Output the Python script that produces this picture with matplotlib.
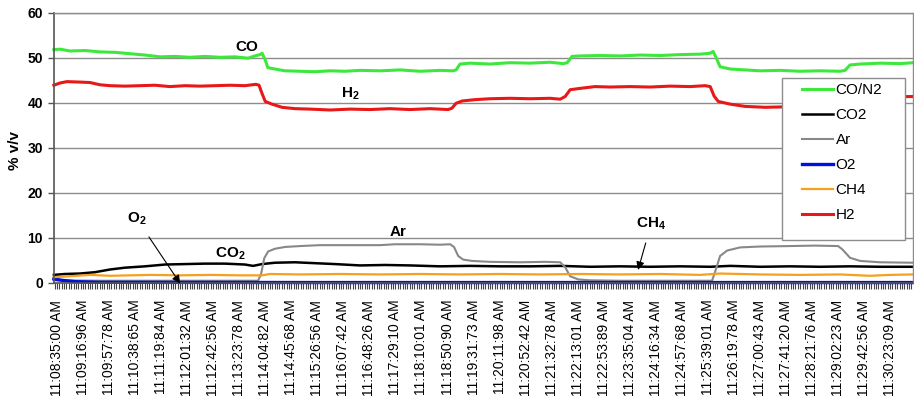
import matplotlib
matplotlib.use("Agg")
import matplotlib.pyplot as plt
from matplotlib.ticker import MultipleLocator
from matplotlib.patches import Rectangle

plt.rcParams['font.family'] = ['Liberation Sans', 'DejaVu Sans']
plt.rcParams['mathtext.fontset'] = 'custom'
plt.rcParams['mathtext.bf'] = 'Liberation Sans:bold'
plt.rcParams['mathtext.rm'] = 'Liberation Sans'

# time axis in units of tick-label intervals (~40.8 s each), 0 = 11:08:35:00 AM
tick_labels = ["11:08:35:00 AM", "11:09:16:96 AM", "11:09:57:78 AM", "11:10:38:65 AM",
               "11:11:19:84 AM", "11:12:01:32 AM", "11:12:42:56 AM", "11:13:23:78 AM",
               "11:14:04:82 AM", "11:14:45:68 AM", "11:15:26:56 AM", "11:16:07:42 AM",
               "11:16:48:26 AM", "11:17:29:10 AM", "11:18:10:01 AM", "11:18:50:90 AM",
               "11:19:31:73 AM", "11:20:11:98 AM", "11:20:52:42 AM", "11:21:32:78 AM",
               "11:22:13:01 AM", "11:22:53:89 AM", "11:23:35:04 AM", "11:24:16:34 AM",
               "11:24:57:68 AM", "11:25:39:01 AM", "11:26:19:78 AM", "11:27:00:43 AM",
               "11:27:41:20 AM", "11:28:21:76 AM", "11:29:02:23 AM", "11:29:42:56 AM",
               "11:30:23:09 AM"]

co_t = [-0.12, 0.12, 0.5, 1.08, 1.65, 2.23, 2.8, 3.38, 3.96, 4.53, 5.11, 5.69, 6.26, 6.84,
        7.34, 7.6, 7.8, 7.88, 8.0, 8.1, 8.37, 8.76, 9.34, 9.91, 10.49, 11.06, 11.64, 12.41,
        13.18, 13.95, 14.71, 15.21, 15.33, 15.48, 15.87, 16.63, 17.4, 18.17, 18.94, 19.44,
        19.6, 19.78, 20.09, 20.86, 21.63, 22.4, 23.17, 23.93, 24.7, 25.09, 25.2, 25.32,
        25.47, 25.86, 26.43, 27.01, 27.78, 28.54, 29.31, 30.08, 30.27, 30.46, 30.85,
        31.62, 32.39, 32.89]
co_v = [51.8, 51.9, 51.5, 51.6, 51.3, 51.2, 50.9, 50.6, 50.2, 50.3, 50.1, 50.3, 50.1, 50.2,
        49.9, 50.4, 50.7, 51.0, 49.5, 47.8, 47.5, 47.1, 47.0, 46.9, 47.1, 47.0, 47.2, 47.1,
        47.3, 47.0, 47.2, 47.1, 47.3, 48.6, 48.8, 48.6, 48.9, 48.8, 49.0, 48.7,
        48.9, 50.3, 50.4, 50.5, 50.4, 50.6, 50.5, 50.7, 50.8, 51.0, 51.4, 50.0,
        48.0, 47.5, 47.3, 47.1, 47.2, 47.0, 47.1, 47.0, 47.2, 48.4, 48.6,
        48.8, 48.7, 48.9]

h2_t = [-0.12, 0.12, 0.38, 0.88, 1.27, 1.65, 2.04, 2.61, 3.19, 3.76, 4.34, 4.92, 5.49, 6.07,
        6.65, 7.22, 7.64, 7.76, 7.88, 8.0, 8.26, 8.64, 9.14, 9.72, 10.49, 11.26, 12.02,
        12.79, 13.56, 14.33, 15.02, 15.17, 15.33, 15.56, 16.06, 16.63, 17.4, 18.17, 18.94,
        19.33, 19.52, 19.71, 20.09, 20.67, 21.24, 22.01, 22.78, 23.55, 24.32, 24.9, 25.09,
        25.24, 25.4, 25.86, 26.43, 27.2, 27.97, 28.93, 29.89, 30.27, 30.46, 30.85, 31.62,
        32.89]
h2_v = [43.9, 44.4, 44.7, 44.6, 44.5, 44.0, 43.8, 43.7, 43.8, 43.9, 43.6, 43.8, 43.7, 43.8,
        43.9, 43.8, 44.1, 43.9, 42.0, 40.3, 39.7, 39.0, 38.7, 38.6, 38.4, 38.6, 38.5,
        38.7, 38.5, 38.7, 38.5, 38.8, 39.9, 40.4, 40.7, 40.9, 41.0, 40.9, 41.0,
        40.8, 41.4, 42.9, 43.2, 43.6, 43.5, 43.6, 43.5, 43.7, 43.6, 43.8, 43.6,
        41.5, 40.3, 39.7, 39.2, 39.0, 39.1, 39.0, 39.1, 39.0, 40.8, 41.1, 41.3,
        41.4]

ar_t = [-0.12, 1.65, 3.57, 5.49, 7.72, 7.84, 7.96, 8.11, 8.37, 8.76, 9.34, 10.1, 11.26,
        12.41, 12.98, 13.95, 14.71, 15.1, 15.25, 15.41, 15.6, 15.94, 16.63, 17.79, 18.75,
        19.33, 19.52, 19.71, 20.02, 20.48, 21.63, 23.93, 25.16, 25.28, 25.47, 25.74, 26.24,
        27.01, 28.16, 29.12, 30.0, 30.16, 30.46, 30.85, 31.62, 32.89]
ar_v = [0.6, 0.5, 0.5, 0.5, 0.5, 2.0, 5.5, 7.0, 7.6, 8.0, 8.2, 8.4, 8.4,
        8.4, 8.6, 8.6, 8.5, 8.6, 8.0, 6.0, 5.2, 4.9, 4.7, 4.6, 4.7,
        4.6, 3.5, 1.5, 0.8, 0.6, 0.5, 0.5, 0.5, 2.5, 6.0, 7.2, 7.9,
        8.1, 8.2, 8.3, 8.2, 7.5, 5.6, 4.9, 4.6, 4.5]

co2_t = [-0.12, 0.31, 0.88, 1.46, 2.04, 2.61, 3.38, 4.15, 4.92, 5.69, 6.45, 7.22, 7.53,
         7.88, 8.37, 9.14, 9.91, 10.68, 11.64, 12.6, 13.56, 14.71, 15.87, 17.02, 18.17,
         19.33, 20.48, 21.63, 22.78, 23.93, 25.09, 25.86, 27.01, 28.16, 29.31, 30.46,
         31.62, 32.89]
co2_v = [1.8, 2.0, 2.1, 2.4, 3.0, 3.4, 3.7, 4.1, 4.2, 4.3, 4.3, 4.1, 3.8,
         4.2, 4.5, 4.6, 4.4, 4.2, 3.9, 4.0, 3.9, 3.7, 3.8, 3.7, 3.7,
         3.8, 3.6, 3.7, 3.6, 3.7, 3.6, 3.8, 3.6, 3.7, 3.6, 3.7,
         3.6, 3.6]

ch4_t = [-0.12, 0.5, 1.27, 2.04, 2.8, 3.57, 4.73, 5.88, 7.03, 7.88, 8.18, 9.34, 10.87,
         12.41, 13.95, 15.48, 17.02, 18.56, 20.09, 21.63, 23.17, 24.7, 25.47, 27.01,
         28.54, 30.08, 31.23, 32.0, 32.89]
ch4_v = [1.3, 1.5, 1.8, 1.6, 1.7, 1.8, 1.7, 1.8, 1.7, 1.7, 2.0, 1.9, 2.0,
         1.9, 2.0, 1.9, 2.0, 1.9, 2.0, 1.9, 2.0, 1.8, 2.1, 1.9,
         1.8, 1.9, 1.6, 1.8, 1.9]

o2_t = [-0.12, 0.19, 0.69, 1.65, 10.0, 20.0, 32.89]
o2_v = [0.9, 0.6, 0.3, 0.15, 0.1, 0.1, 0.1]

series = [
    ("CO/N2", co_t, co_v, "#3de83d", 2.2),
    ("CO2", co2_t, co2_v, "#000000", 1.8),
    ("Ar", ar_t, ar_v, "#888888", 1.5),
    ("O2", o2_t, o2_v, "#0010e0", 2.4),
    ("CH4", ch4_t, ch4_v, "#f5a01e", 1.6),
    ("H2", h2_t, h2_v, "#e81818", 2.2),
]

fig = plt.figure(figsize=(9.14, 4.0), dpi=100)
W, H = 914, 400
x0, x1, ytop, ybot = 54, 913, 12.7, 283
ax = fig.add_axes([x0 / W, 1 - ybot / H, (x1 - x0) / W, (ybot - ytop) / H])

for name, t, v, c, lw in series:
    ax.plot(t, v, color=c, lw=lw, label=name, solid_joinstyle='round', clip_on=False)

ax.set_xlim(-0.115, 32.88)
ax.set_ylim(0, 60)
ax.set_yticks(range(0, 61, 10))
ax.yaxis.grid(True, color="#8c8c8c", lw=1.0)
ax.set_axisbelow(True)
ax.tick_params(axis='y', length=4, width=1, color="#555555", pad=4, labelsize=10)
for lab in ax.get_yticklabels():
    lab.set_fontweight('bold')

ax.set_xticks(range(len(tick_labels)))
ax.set_xticklabels(tick_labels, rotation=90, fontsize=10)
ax.xaxis.set_minor_locator(MultipleLocator(1 / 11))
ax.tick_params(axis='x', which='both', length=4, width=0.8, color="#444444", pad=8)

for s in ['top', 'right']:
    ax.spines[s].set_color("#8c8c8c")
    ax.spines[s].set_linewidth(1.0)
for s in ['left', 'bottom']:
    ax.spines[s].set_color("#555555")
    ax.spines[s].set_linewidth(1.2)

fig.text(15 / W, 1 - 150 / H, "% v/v", rotation=90, fontsize=11, fontweight='bold',
         ha='center', va='center')

# annotations
ax.text(7.30, 52.4, "CO", fontsize=11, fontweight='bold', ha='center', va='center')
ax.text(11.26, 42.0, r"$\mathbf{H_2}$", fontsize=11, ha='center', va='center')
ax.text(13.1, 11.3, "Ar", fontsize=11, fontweight='bold', ha='center', va='center')
ax.text(6.65, 6.4, r"$\mathbf{CO_2}$", fontsize=11, ha='center', va='center')
ax.annotate(r"$\mathbf{O_2}$", xy=(4.73, -0.1), xytext=(3.07, 14.2), fontsize=11,
            ha='center', va='center', annotation_clip=False,
            arrowprops=dict(arrowstyle='-|>', color='black', lw=0.8, mutation_scale=12,
                            shrinkA=6, shrinkB=0))
ax.annotate(r"$\mathbf{CH_4}$", xy=(22.32, 2.9), xytext=(22.82, 13.1), fontsize=11,
            ha='center', va='center', annotation_clip=False,
            arrowprops=dict(arrowstyle='-|>', color='black', lw=0.8, mutation_scale=12,
                            shrinkA=6, shrinkB=0))

# legend with a custom frame
ax_w, ax_h = x1 - x0, ybot - ytop
rect = Rectangle(((782 - x0) / ax_w, (ybot - 240) / ax_h), (905 - 782) / ax_w,
                 (240 - 78) / ax_h, transform=ax.transAxes, facecolor='white',
                 edgecolor="#8c8c8c", lw=1.0, zorder=4.5, clip_on=False)
ax.add_patch(rect)
leg = ax.legend(loc='upper left', bbox_to_anchor=((802 - x0) / ax_w, (ybot - 83) / ax_h),
                frameon=False, fontsize=11, handlelength=2.0, handletextpad=0.2,
                labelspacing=0.72, borderpad=0, borderaxespad=0)
leg.set_zorder(5)

fig.savefig("out.png", dpi=100)
